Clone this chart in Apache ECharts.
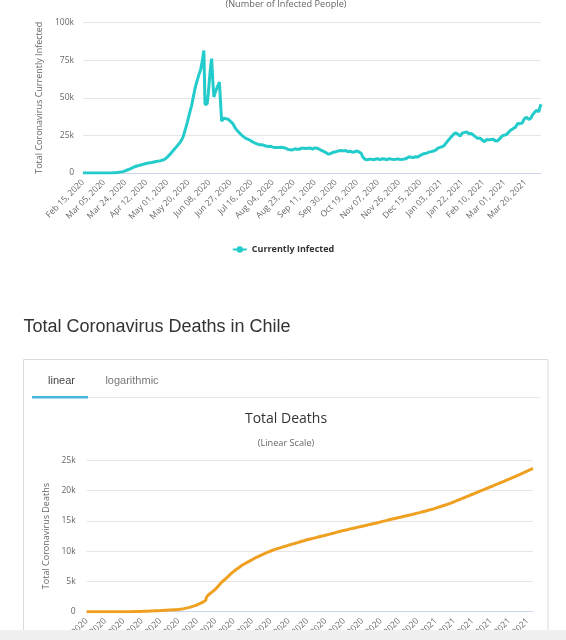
<!DOCTYPE html>
<html>
<head>
<meta charset="utf-8">
<script src="https://cdn.jsdelivr.net/npm/echarts@6/dist/echarts.min.js"></script>
<style>
html,body{margin:0;padding:0;background:#fff;}
#chart{width:566px;height:640px;}
</style>
</head>
<body>
<div id="chart"></div>
<script>
// ---- Data ----
const startDate = [2020, 1, 15]; // Feb 15, 2020 (month index 1)
const dayCount = 414;
const monthNames = ['Jan','Feb','Mar','Apr','May','Jun','Jul','Aug','Sep','Oct','Nov','Dec'];

const currentlyInfected = [
0,0,0,0,0,0,0,0,0,0,0,0,0,0,0,0,0,
1,3,4,6,9,12,16,25,
40,60,80,150,200,240,330,430,540,650,
760,920,1130,1400,1700,2000,2300,2600,2900,3300,
3700,4000,4300,4500,4700,4900,5100,5300,5500,5700,
5900,6100,6300,6500,6600,6800,6900,7000,7200,7300,
7500,7600,7800,7900,8000,8200,8400,8600,8900,9300,
9900,10600,11300,12000,12900,13800,14600,15400,16300,17200,
18000,18900,19800,20800,21800,23500,25700,28300,30800,33500,
36500,39500,42300,45000,48800,52500,56000,59000,61500,64000,
66500,68500,72000,76500,81400,45500,45800,46000,53000,62000,
70000,76000,62000,50500,53000,55000,57000,58500,60400,59500,
34400,35500,36500,36900,36000,35500,35700,35000,34200,33300,
33000,31800,30200,29000,28300,27400,26700,26000,25200,24300,
24000,23500,23000,23200,22300,21800,21600,21000,20700,20200,
19900,19600,19300,19500,18700,18500,18800,18400,18500,18000,
17900,18200,17600,17400,17800,17400,17200,17500,17000,17200,
16900,17300,17000,16800,17100,16600,16800,16200,16500,15900,
15600,15200,15500,15700,15300,15800,16100,16300,15800,16000,
15700,16200,16500,16100,16400,16800,16300,16000,16500,16300,
16600,16200,15900,16400,16700,16200,16500,16300,15800,15400,
15000,14600,14300,14100,13600,13000,12600,12400,12800,13200,
13600,13400,13900,14100,14400,14200,14800,15200,15000,15200,
14700,14400,14900,14500,14100,14100,14500,14200,13800,14300,
14100,14400,14600,14600,14000,13500,13000,11000,9700,9300,
8900,8700,8600,9100,8800,9200,8900,8700,9000,9300,
8900,9400,9100,8800,9200,9500,9000,9300,9100,8800,
9300,9500,9000,9200,9400,8900,9300,9100,8800,9400,
9200,9000,9300,9100,9400,9300,9500,9800,10300,10800,
11200,10500,10100,10300,10400,10800,11000,10700,11300,11600,
12100,12400,12200,13000,13400,13100,13500,14000,13800,14200,
14600,14600,14300,15200,16000,16500,17000,17000,16800,17500,
18000,18500,19500,20500,21500,22300,23000,24000,25000,25600,
26300,26800,26200,25800,25300,24500,25500,26500,27300,27000,
26600,27200,26500,26100,26700,26300,25800,25200,24600,24000,
23500,23000,22600,23200,22700,22000,21300,20700,21500,22300,
22600,22000,22500,22300,22000,22400,21800,21300,20700,21500,
22300,23000,24000,24600,24300,25200,24800,25600,26500,27300,
28200,28600,29200,29600,29300,30500,31500,32900,33500,32800,
31800,33200,34500,36000,37300,37000,36200,35500,34600,36500,
38300,39500,40200,41000,41700,42600,40600,43500,45700
];

const totalDeaths = [
0,0,0,0,0,0,0,0,0,0,0,0,0,0,0,0,0,0,0,0,0,0,0,0,0,0,0,0,0,0,0,0,0,0,0,
1,1,2,3,4,5,6,8,12,16,
18,22,27,34,37,43,48,57,65,73,
82,92,94,105,116,126,133,139,147,160,
168,174,181,189,198,207,216,227,234,247,
260,270,275,285,294,304,312,323,335,346,
368,394,421,450,478,509,544,589,630,673,
718,761,806,890,944,997,1054,1113,1188,1275,
1356,1448,1541,1637,1730,1850,2450,2650,2850,3000,
3100,3300,3400,3600,3700,3900,4100,4300,4500,4700,
4900,5000,5200,5350,5500,5700,5850,6000,6200,6350,
6500,6650,6800,6950,7050,7200,7300,7450,7600,7700,
7800,7900,8000,8100,8200,8300,8400,8500,8600,8700,
8800,8900,9000,9080,9160,9240,9320,9400,9480,9560,
9640,9720,9800,9870,9940,10010,10080,10150,10220,10290,
10340,10400,10450,10510,10560,10620,10670,10730,10780,10840,
10890,10950,11000,11050,11110,11160,11210,11260,11320,11370,
11420,11480,11530,11580,11640,11690,11740,11790,11850,11900,
11940,11990,12030,12070,12120,12160,12200,12250,12290,12340,
12380,12420,12470,12510,12550,12600,12650,12690,12740,12790,
12830,12880,12930,12980,13020,13070,13120,13160,13210,13260,
13300,13350,13400,13440,13480,13520,13560,13610,13650,13690,
13730,13770,13810,13850,13890,13940,13980,14020,14060,14100,
14140,14180,14220,14260,14300,14350,14390,14430,14470,14510,
14550,14590,14630,14680,14720,14760,14800,14840,14890,14930,
14980,15020,15060,15110,15150,15190,15240,15280,15320,15370,
15410,15460,15500,15540,15580,15620,15660,15700,15750,15790,
15830,15870,15910,15950,15990,16040,16080,16120,16160,16200,
16250,16290,16340,16390,16430,16480,16530,16580,16620,16670,
16720,16760,16810,16860,16900,16950,17000,17060,17120,17180,
17240,17300,17360,17420,17480,17540,17600,17650,17710,17770,
17830,17890,17950,18020,18100,18170,18240,18320,18390,18460,
18540,18610,18680,18760,18830,18900,18980,19050,19120,19200,
19270,19350,19420,19490,19570,19640,19710,19790,19860,19930,
20010,20080,20150,20230,20300,20370,20450,20520,20600,20670,
20740,20820,20890,20960,21040,21110,21180,21260,21330,21400,
21480,21550,21620,21700,21780,21860,21930,22010,22090,22160,
22240,22320,22390,22470,22550,22620,22700,22780,22870,22950,
23030,23120,23200,23280,23370,23450,23530,23620,23700
];

const infectedTicks = [0, 25000, 50000, 75000, 100000];
const deathTicks = [0, 5000, 10000, 15000, 20000, 25000];

// category labels (dates)
const dates = [];
for (let i = 0; i < dayCount; i++) {
  const d = new Date(Date.UTC(startDate[0], startDate[1], startDate[2] + i));
  const dd = String(d.getUTCDate()).padStart(2, '0');
  dates.push(monthNames[d.getUTCMonth()] + ' ' + dd + ', ' + d.getUTCFullYear());
}

// ---- Chart ----
const kFmt = v => (v === 0 ? '0' : (v / 1000) + 'k');
const FONT = '"Open Sans", "DejaVu Sans", sans-serif';
const AR = '"Liberation Sans", Arial, sans-serif';
const labelStyle = { color: '#666', fontSize: 8.5, fontFamily: FONT };

const chart = echarts.init(document.getElementById('chart'), null, { renderer: 'canvas' });
chart.setOption({
  animation: false,
  backgroundColor: '#fff',
  textStyle: { fontFamily: FONT },
  legend: [{
    data: ['Currently Infected'],
    left: 'center',
    top: 240,
    itemWidth: 14,
    itemHeight: 8,
    itemGap: 4,
    textStyle: { color: '#333', fontSize: 9, fontWeight: 'bold', fontFamily: FONT },
    selectedMode: false
  }],
  grid: [
    { left: 83, top: 22.5, width: 458, height: 150.5, outerBoundsMode: 'none', containLabel: false },
    { left: 86.7, top: 460.5, width: 446.3, height: 151.2, outerBoundsMode: 'none', containLabel: false }
  ],
  xAxis: [
    {
      type: 'category', gridIndex: 0, data: dates, boundaryGap: false,
      axisLine: { lineStyle: { color: '#ccd6eb' } },
      axisTick: { show: false },
      axisLabel: Object.assign({ rotate: 45, interval: 18, margin: 8 }, labelStyle)
    },
    {
      type: 'category', gridIndex: 1, data: dates, boundaryGap: false,
      axisLine: { lineStyle: { color: '#ccd6eb' } },
      axisTick: { show: false },
      axisLabel: Object.assign({ rotate: 45, interval: 16, margin: 8 }, labelStyle)
    }
  ],
  yAxis: [
    {
      type: 'value', gridIndex: 0, min: infectedTicks[0], max: infectedTicks[infectedTicks.length - 1],
      interval: infectedTicks[1] - infectedTicks[0],
      axisLine: { show: false }, axisTick: { show: false },
      splitLine: { lineStyle: { color: '#e6e6e6' } },
      axisLabel: Object.assign({ formatter: kFmt, margin: 9 }, labelStyle),
      name: 'Total Coronavirus Currently Infected', nameLocation: 'middle', nameGap: 37,
      nameTextStyle: { color: '#666', fontSize: 9, fontFamily: FONT }
    },
    {
      type: 'value', gridIndex: 1, min: deathTicks[0], max: deathTicks[deathTicks.length - 1],
      interval: deathTicks[1] - deathTicks[0],
      axisLine: { show: false }, axisTick: { show: false },
      splitLine: { lineStyle: { color: '#e6e6e6' } },
      axisLabel: Object.assign({ formatter: kFmt, margin: 11 }, labelStyle),
      name: 'Total Coronavirus Deaths', nameLocation: 'middle', nameGap: 34,
      nameTextStyle: { color: '#666', fontSize: 9, fontFamily: FONT }
    }
  ],
  series: [
    {
      name: 'Currently Infected', type: 'line', xAxisIndex: 0, yAxisIndex: 0,
      data: currentlyInfected, showSymbol: false, symbol: 'circle', symbolSize: 7,
      itemStyle: { color: '#24CBCB' },
      lineStyle: { color: '#24CBCB', width: 3 }
    },
    {
      name: 'Deaths', type: 'line', xAxisIndex: 1, yAxisIndex: 1,
      data: totalDeaths, showSymbol: false, symbol: 'circle',
      itemStyle: { color: '#EFA021' },
      lineStyle: { color: '#EFA021', width: 3 }
    }
  ],
  graphic: [
    { type: 'text', x: 286, y: 4, style: { text: '(Number of Infected People)', fill: '#666', font: '9.2px ' + FONT, textAlign: 'center', textVerticalAlign: 'middle' } },
    { type: 'text', x: 23.5, y: 327, style: { text: 'Total Coronavirus Deaths in Chile', fill: '#333', font: '18px ' + AR, textAlign: 'left', textVerticalAlign: 'middle' } },
    { type: 'rect', shape: { x: 23.5, y: 359.5, width: 524.5, height: 320 }, style: { fill: 'none', stroke: '#dcdcdc', lineWidth: 1 } },
    { type: 'text', x: 61.5, y: 381, style: { text: 'linear', fill: '#444', font: '11px ' + AR, textAlign: 'center', textVerticalAlign: 'middle' } },
    { type: 'text', x: 132, y: 381, style: { text: 'logarithmic', fill: '#777', font: '11px ' + AR, textAlign: 'center', textVerticalAlign: 'middle' } },
    { type: 'line', shape: { x1: 88, y1: 397.5, x2: 540, y2: 397.5 }, style: { stroke: '#e8e8e8', lineWidth: 1 } },
    { type: 'rect', shape: { x: 32, y: 396, width: 56, height: 2.5 }, style: { fill: '#45B7DE' } },
    { type: 'text', x: 286, y: 419, style: { text: 'Total Deaths', fill: '#333', font: '14px ' + FONT, textAlign: 'center', textVerticalAlign: 'middle' } },
    { type: 'text', x: 286, y: 443, style: { text: '(Linear Scale)', fill: '#666', font: '9.2px ' + FONT, textAlign: 'center', textVerticalAlign: 'middle' } },
    { type: 'rect', z: 100, shape: { x: 0, y: 630, width: 566, height: 10 }, style: { fill: '#f0f0f0' } }
  ]
});
</script>
</body>
</html>
